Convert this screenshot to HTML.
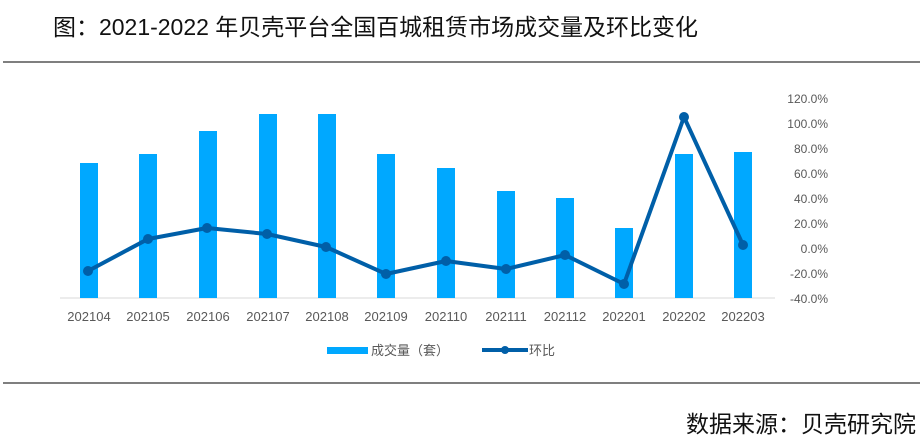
<!DOCTYPE html>
<html><head><meta charset="utf-8"><style>
body{margin:0;background:#fff;width:923px;height:448px;overflow:hidden;font-family:"Liberation Sans","Noto Sans CJK SC",sans-serif}
</style></head><body>
<svg width="923" height="448" xmlns="http://www.w3.org/2000/svg" style="position:absolute;left:0;top:0">
<text x="53" y="35" font-size="23" fill="#111" font-family="Liberation Sans,Noto Sans CJK SC,sans-serif" textLength="645" lengthAdjust="spacingAndGlyphs">图：2021-2022 年贝壳平台全国百城租赁市场成交量及环比变化</text>
<rect x="3" y="61" width="917" height="2" fill="#7f7f7f"/>
<rect x="3" y="382" width="917" height="2" fill="#7f7f7f"/>
<line x1="60" y1="298" x2="775" y2="298" stroke="#d9d9d9" stroke-width="1"/>
<g fill="#00a8ff">
<rect x="80" y="163" width="18" height="135"/>
<rect x="139" y="154" width="18" height="144"/>
<rect x="199" y="131" width="18" height="167"/>
<rect x="259" y="114" width="18" height="184"/>
<rect x="318" y="114" width="18" height="184"/>
<rect x="377" y="154" width="18" height="144"/>
<rect x="437" y="168" width="18" height="130"/>
<rect x="497" y="191" width="18" height="107"/>
<rect x="556" y="198" width="18" height="100"/>
<rect x="615" y="228" width="18" height="70"/>
<rect x="675" y="154" width="18" height="144"/>
<rect x="734" y="152" width="18" height="146"/>
</g>
<polyline fill="none" stroke="#005fa8" stroke-width="4" stroke-linejoin="round" points="88,271 148,239 207,228 267,234 326,247 386,274 446,261 506,269 565,255 624,284 684,117 743,245"/>
<g fill="#005fa8">
<circle cx="88" cy="271" r="5"/><circle cx="148" cy="239" r="5"/><circle cx="207" cy="228" r="5"/><circle cx="267" cy="234" r="5"/><circle cx="326" cy="247" r="5"/><circle cx="386" cy="274" r="5"/><circle cx="446" cy="261" r="5"/><circle cx="506" cy="269" r="5"/><circle cx="565" cy="255" r="5"/><circle cx="624" cy="284" r="5"/><circle cx="684" cy="117" r="5"/><circle cx="743" cy="245" r="5"/>
</g>
<g font-size="13" fill="#595959" text-anchor="middle">
<text x="89" y="321">202104</text><text x="148" y="321">202105</text><text x="208" y="321">202106</text><text x="268" y="321">202107</text><text x="327" y="321">202108</text><text x="386" y="321">202109</text><text x="446" y="321">202110</text><text x="506" y="321">202111</text><text x="565" y="321">202112</text><text x="624" y="321">202201</text><text x="684" y="321">202202</text><text x="743" y="321">202203</text>
</g>
<g font-size="12" fill="#595959" text-anchor="end">
<text x="828" y="103">120.0%</text><text x="828" y="128">100.0%</text><text x="828" y="153">80.0%</text><text x="828" y="178">60.0%</text><text x="828" y="203">40.0%</text><text x="828" y="228">20.0%</text><text x="828" y="253">0.0%</text><text x="828" y="278">-20.0%</text><text x="828" y="303">-40.0%</text>
</g>
<rect x="327" y="347" width="41" height="7" fill="#00a8ff"/>
<text x="371" y="355" font-size="13" fill="#595959">成交量（套）</text>
<line x1="482" y1="350" x2="528" y2="350" stroke="#005fa8" stroke-width="4"/>
<circle cx="505" cy="350" r="4" fill="#005fa8"/>
<text x="529" y="355" font-size="13" fill="#595959">环比</text>
<text x="916" y="432" font-size="23" fill="#111" text-anchor="end">数据来源：贝壳研究院</text>
</svg>
</body></html>
